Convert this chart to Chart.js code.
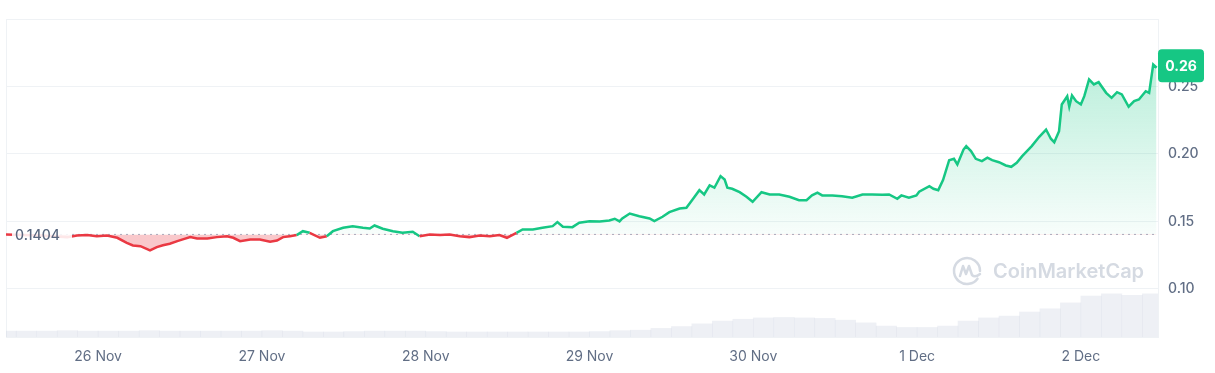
<!DOCTYPE html>
<html>
<head>
<meta charset="utf-8">
<script src="https://cdn.jsdelivr.net/npm/chart.js@4.4.1/dist/chart.umd.min.js"></script>
<style>
  html, body { margin: 0; padding: 0; background: #fff; }
  #wrap { width: 1215px; height: 373px; }
</style>
</head>
<body>
<div id="wrap"><canvas id="priceChart"></canvas></div>
<script>
// time in hours since 26 Nov 00:00
const priceHours = [
  -13.5, -8.5, -4.5, -3.1, -1.6, -0.2, 1.3, 2.8, 4.2, 5.1, 6.2, 7.6, 8.6, 9.5, 10.5, 11.6, 12.4, 13.5,
  14.5, 16.0, 17.4, 18.9, 19.8, 20.8, 22.3, 23.7, 25.2, 26.2, 27.1, 28.1, 29.1, 30.0, 31.0, 32.5,
  33.5, 34.4, 35.9, 37.3, 38.8, 39.8, 40.5, 41.7, 43.2, 44.6, 46.1, 47.1, 48.6, 50.1, 51.5, 53.0,
  54.4, 55.9, 57.4, 58.8, 59.9, 61.3, 62.2, 63.7, 65.1, 66.6, 67.3, 68.1, 69.5, 70.5, 72.0, 73.5,
  74.9, 75.7, 76.4, 76.8, 77.9, 79.3, 80.8, 81.5, 82.7, 83.7, 85.2, 86.2, 87.1, 88.1, 88.8, 89.6,
  90.3, 91.2, 91.8, 92.2, 92.9, 94.0, 95.0, 95.9, 97.2, 98.4, 99.8, 101.3, 102.7, 103.8, 104.6,
  105.4, 106.1, 107.6, 109.0, 110.5, 112.0, 113.4, 114.9, 115.9, 117.1, 117.7, 118.8, 119.9, 120.3,
  121.8, 122.4, 123.1, 123.8, 124.7, 125.4, 125.9, 126.8, 127.2, 127.9, 128.6, 129.5, 130.3, 131.0,
  132.0, 133.0, 133.8, 134.6, 135.4, 136.1, 136.8, 137.9, 138.9, 139.6, 140.1, 140.8, 141.2, 142.0,
  142.3, 142.7, 143.3, 144.0, 144.5, 145.2, 145.9, 146.6, 147.7, 148.5, 149.3, 150.0, 151.0, 151.8,
  152.5, 153.5, 154.0, 154.6, 155.1
];
const prices = [
  0.1404, 0.1396, 0.1384, 0.1396, 0.1399, 0.1391, 0.1396, 0.1379, 0.1342, 0.1322, 0.1317, 0.1285, 0.1310, 0.1324, 0.1335, 0.1354, 0.1367, 0.1384,
  0.1374, 0.1374, 0.1384, 0.1391, 0.1379, 0.1354, 0.1367, 0.1367, 0.1350, 0.1359, 0.1384, 0.1391, 0.1399, 0.1428, 0.1416, 0.1379,
  0.1391, 0.1428, 0.1453, 0.1465, 0.1453, 0.1448, 0.1470, 0.1446, 0.1428, 0.1416, 0.1424, 0.1391, 0.1404, 0.1399, 0.1404, 0.1391,
  0.1384, 0.1396, 0.1391, 0.1399, 0.1379, 0.1416, 0.1441, 0.1441, 0.1453, 0.1465, 0.1495, 0.1461, 0.1458, 0.1490, 0.1502, 0.1500,
  0.1507, 0.1520, 0.1500, 0.1522, 0.1559, 0.1539, 0.1522, 0.1502, 0.1535, 0.1569, 0.1596, 0.1601, 0.1663, 0.1732, 0.1700, 0.1767,
  0.1750, 0.1836, 0.1811, 0.1750, 0.1742, 0.1717, 0.1683, 0.1646, 0.1717, 0.1700, 0.1700, 0.1683, 0.1658, 0.1658, 0.1693,
  0.1713, 0.1693, 0.1693, 0.1687, 0.1676, 0.1700, 0.1700, 0.1698, 0.1700, 0.1668, 0.1693, 0.1676, 0.1693, 0.1720,
  0.1761, 0.1742, 0.1732, 0.1806, 0.1954, 0.1964, 0.1922, 0.2033, 0.2058, 0.2021, 0.1964, 0.1947, 0.1972, 0.1954,
  0.1939, 0.1915, 0.1905, 0.1935, 0.1984, 0.2021, 0.2058, 0.2127, 0.2181, 0.2113, 0.2087, 0.2169, 0.2367, 0.2428,
  0.2350, 0.2433, 0.2391, 0.2367, 0.2428, 0.2552, 0.2515, 0.2532, 0.2453, 0.2416, 0.2458, 0.2441, 0.2350, 0.2391,
  0.2404, 0.2465, 0.2453, 0.2663, 0.2639
];

const volumeHours = [
  -13.5, -10.5, -7.5, -4.5, -1.5, 1.5, 4.5, 7.5, 10.5, 13.5, 16.5, 19.5, 22.5, 25.5, 28.5, 31.5, 34.5, 37.5, 40.5,
  43.5, 46.5, 49.5, 52.5, 55.5, 58.5, 61.5, 64.5, 67.5, 70.5, 73.5, 76.5, 79.5, 82.5, 85.5, 88.5, 91.5, 94.5, 97.5,
  100.5, 103.5, 106.5, 109.5, 112.5, 115.5, 118.5, 121.5, 124.5, 127.5, 130.5, 133.5, 136.5, 139.5, 142.5, 145.5,
  148.5, 151.5, 154.5
];
// volume, millions USD
const volumes = [
  13, 13, 13, 14, 13, 13, 13, 14, 13, 13, 13, 13, 13, 14, 13, 11, 11, 12, 13,
  13, 13, 12, 11, 11, 11, 11, 11, 11, 11, 12, 14, 15, 19, 23, 29, 35, 39, 42,
  43, 42, 41, 37, 31, 24, 21, 21, 24, 35, 42, 46, 55, 62, 75, 90,
  95, 92, 95
];

const dayTicks = [0, 24, 48, 72, 96, 120, 144];
const dayLabels = ['26 Nov', '27 Nov', '28 Nov', '29 Nov', '30 Nov', '1 Dec', '2 Dec'];
const priceTicks = [0.10, 0.15, 0.20, 0.25];
const openPrice = 0.1404;

const GREEN = '#16c784';
const RED = '#ea3943';
const GRID = '#eff2f5';
const TEXT = '#616e85';

Chart.defaults.font.family = 'Inter';
Chart.defaults.font.size = 14;

const framePlugin = {
    id: 'frame',
    beforeDatasetsDraw(chart) {
        const { ctx, chartArea: a } = chart;
        ctx.save();
        ctx.strokeStyle = GRID;
        ctx.lineWidth = 1;
        ctx.strokeRect(a.left + 0.5, a.top + 0.5, a.right - a.left, a.bottom - a.top);

        // watermark
        const cx = a.right - 191, cy = a.bottom - 66;
        ctx.strokeStyle = '#d5dae2';
        ctx.lineWidth = 2.5;
        ctx.lineCap = 'round';
        ctx.lineJoin = 'round';
        ctx.beginPath();
        ctx.arc(cx, cy, 13, 0.2 * Math.PI, 2 * Math.PI);
        ctx.stroke();
        ctx.beginPath();
        ctx.moveTo(cx - 7, cy + 5);
        ctx.lineTo(cx - 4, cy - 5);
        ctx.lineTo(cx - 1, cy + 3);
        ctx.lineTo(cx + 2, cy - 5);
        ctx.lineTo(cx + 5, cy + 4);
        ctx.quadraticCurveTo(cx + 8, cy + 7, cx + 13, cy + 3);
        ctx.stroke();
        ctx.fillStyle = '#d5dae2';
        ctx.font = '600 20px Inter';
        ctx.textBaseline = 'middle';
        ctx.fillText('CoinMarketCap', a.right - 165, cy + 1);
        ctx.restore();
    }
};

const labelPlugin = {
    id: 'labels',
    afterDraw(chart) {
        const { ctx, chartArea: a, scales } = chart;
        const y0 = scales.y.getPixelForValue(openPrice);
        ctx.save();
        ctx.fillStyle = 'rgba(255,255,255,0.88)';
        ctx.fillRect(a.left + 6, y0 - 10, 60, 20);
        ctx.fillStyle = '#58667e';
        ctx.font = '500 14px Inter';
        ctx.textBaseline = 'middle';
        ctx.fillText(openPrice.toFixed(4), a.left + 9, y0 + 1);

        // last price badge
        const last = prices[prices.length - 1];
        const yl = scales.y.getPixelForValue(last);
        const bx = a.right, bw = 46, bh = 33;
        ctx.fillStyle = GREEN;
        ctx.beginPath();
        ctx.roundRect(bx, yl - bh / 2 - 2, bw, bh, 4);
        ctx.fill();
        ctx.fillStyle = '#fff';
        ctx.font = 'bold 14px Inter';
        ctx.textAlign = 'center';
        ctx.fillText(last.toFixed(2), bx + bw / 2, yl - 1);
        ctx.restore();
    }
};

const chart = new Chart(document.getElementById('priceChart'), {
    type: 'line',
    data: {
        datasets: [
            {
                type: 'line',
                label: 'Price',
                data: priceHours.map((h, i) => ({ x: h, y: prices[i] })),
                borderColor: GREEN,
                borderWidth: 2.5,
                pointRadius: 0,
                tension: 0,
                order: 1,
                fill: {
                    target: { value: openPrice },
                    above: 'rgba(22,199,132,0.15)',
                    below: 'rgba(234,57,67,0.28)'
                },
                segment: {
                    borderColor: c => ((c.p0.parsed.y + c.p1.parsed.y) / 2 < openPrice ? RED : GREEN)
                }
            },
            {
                type: 'line',
                label: 'Open',
                data: [{ x: -13.5, y: openPrice }, { x: 155.3, y: openPrice }],
                borderColor: '#a6b0c3',
                borderWidth: 1,
                borderDash: [2, 4],
                pointRadius: 0,
                fill: false,
                order: 2
            },
            {
                type: 'bar',
                label: 'Volume',
                yAxisID: 'vol',
                data: volumeHours.map((h, i) => ({ x: h, y: volumes[i] })),
                backgroundColor: 'rgba(205,212,225,0.34)',
                barPercentage: 1,
                categoryPercentage: 1,
                order: 3
            }
        ]
    },
    options: {
        responsive: true,
        maintainAspectRatio: false,
        animation: false,
        layout: { padding: { left: 6, top: 19, right: 0, bottom: 0 } },
        plugins: {
            legend: { display: false },
            tooltip: { enabled: false }
        },
        scales: {
            x: {
                type: 'linear',
                min: -13.5,
                max: 155.3,
                offset: false,
                grid: { display: false, drawTicks: false, offset: false },
                border: { display: false },
                afterBuildTicks: s => { s.ticks = dayTicks.map(v => ({ value: v })); },
                afterFit: s => { s.height = 36; },
                ticks: {
                    padding: 11,
                    color: TEXT,
                    maxRotation: 0,
                    autoSkip: false,
                    callback: v => dayLabels[dayTicks.indexOf(v)]
                }
            },
            y: {
                position: 'right',
                min: 0.0644,
                max: 0.30,
                grid: { color: GRID, drawTicks: false },
                border: { display: false },
                afterBuildTicks: s => { s.ticks = priceTicks.map(v => ({ value: v })); },
                afterFit: s => { s.width = 57; },
                ticks: {
                    padding: 10,
                    color: TEXT,
                    font: { weight: '500' },
                    callback: v => v.toFixed(2)
                }
            },
            vol: {
                display: false,
                min: 0,
                max: 700
            }
        }
    },
    plugins: [framePlugin, labelPlugin]
});

// green area fades from the top of the line down to the open price
const yScale = chart.scales.y;
const grad = chart.ctx.createLinearGradient(0, yScale.getPixelForValue(0.27), 0, yScale.getPixelForValue(openPrice));
grad.addColorStop(0, 'rgba(22,199,132,0.30)');
grad.addColorStop(1, 'rgba(22,199,132,0.03)');
chart.data.datasets[0].fill.above = grad;
chart.update('none');
</script>
</body>
</html>
